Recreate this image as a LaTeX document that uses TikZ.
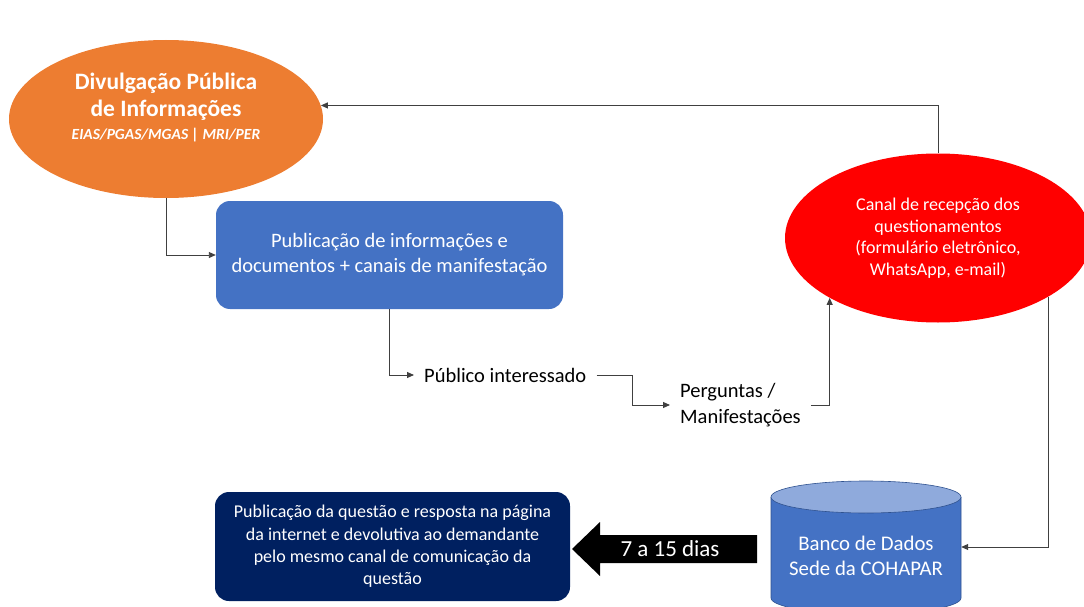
\documentclass[tikz,border=0pt]{standalone}
\usepackage{fontspec}
\setmainfont{Carlito}
\usetikzlibrary{shapes.geometric,arrows.meta}
\definecolor{cOrange}{HTML}{ED7D31}
\definecolor{cBlue}{HTML}{4472C4}
\definecolor{cBlueLight}{HTML}{8FAADC}
\definecolor{cBlueDark}{HTML}{2F528F}
\definecolor{cNavy}{HTML}{002060}
\definecolor{cRed}{HTML}{FF0000}
\definecolor{cLine}{HTML}{404040}
\tikzset{
  conn/.style={draw=cLine, line width=0.9pt, -{Triangle[length=7pt,width=6pt]}},
  oval/.style={ellipse, inner sep=0pt, text=white, align=center},
  card/.style={rectangle, rounded corners=14pt, inner sep=0pt, text=white, align=center},
  plain/.style={inner ysep=0pt, inner xsep=10pt, text=black, font=\fontsize{20.5}{26}\selectfont},
}
\begin{document}
\begin{tikzpicture}[x=1pt,y=-1pt]
\useasboundingbox (0,0) rectangle (1084,607);
% orange ellipse
\node[oval, fill=cOrange, minimum width=314pt, minimum height=158pt] (orange) at (166,119) {};
\node[text=white, align=center, font=\fontsize{23.5}{27}\selectfont\bfseries] (orangetxt) at (166,107)
  {Divulgação Pública\\de Informações\\[-4pt]{\fontsize{15.5}{17}\selectfont\itshape EIAS/PGAS/MGAS | MRI/PER}};
% blue box
\node[card, fill=cBlue, minimum width=347pt, minimum height=108pt, font=\fontsize{20.5}{25}\selectfont] (blue) at (389.5,255)
  {Publicação de informações e\\documentos + canais de manifestação};
% red ellipse
\node[oval, fill=cRed, minimum width=306pt, minimum height=169pt, font=\fontsize{18}{21.5}\selectfont] (red) at (938,238)
  {Canal de recepção dos\\questionamentos\\(formulário eletrônico,\\WhatsApp, e-mail)};
% plain text nodes
\node[plain, anchor=west] (pub) at (414,375) {Público interessado};
\node[plain, anchor=west, align=left] (perg) at (670,405) {Perguntas /\\Manifestações};
% navy box
\node[card, fill=cNavy, minimum width=355pt, minimum height=109pt, font=\fontsize{18}{22.3}\selectfont] (navy) at (392.5,546.5)
  {Publicação da questão e resposta na página\\da internet e devolutiva ao demandante\\pelo mesmo canal de comunicação da\\questão};
% database cylinder
\fill[cBlue] (771,497) -- (771,598) arc[start angle=180, end angle=360, x radius=95pt, y radius=16pt] -- (961,497) -- cycle;
\draw[cBlueDark, line width=0.6pt] (771,497) -- (771,598) arc[start angle=180, end angle=360, x radius=95pt, y radius=16pt] -- (961,497);
\filldraw[fill=cBlueLight, draw=cBlueDark, line width=0.6pt] (866,497) ellipse[x radius=95pt, y radius=16pt];
\node[minimum width=190pt, minimum height=100pt, inner sep=0pt] (db) at (866,547) {};
\node[text=white, align=center, font=\fontsize{20.8}{25.5}\selectfont] (dbtxt) at (866,556) {Banco de Dados\\Sede da COHAPAR};
% black block arrow
\fill[black] (572,549) -- (600,522) -- (600,535) -- (757,535) -- (757,563) -- (600,563) -- (600,576) -- cycle;
\node[text=white, font=\fontsize{23}{26}\selectfont] (dur) at (670,549) {7 a 15 dias};
% connectors
\draw[conn] (orange.south) |- (blue.west);
\draw[conn] (blue.south) |- (pub.west);
\draw[conn] (pub.east) -- ++(36,0) |- (perg.west);
\draw[conn] (perg.east) -| (red.south west);
\draw[conn] (red.north) |- (orange.5);
\draw[conn] (red.-28) |- (db.east);
\end{tikzpicture}
\end{document}
